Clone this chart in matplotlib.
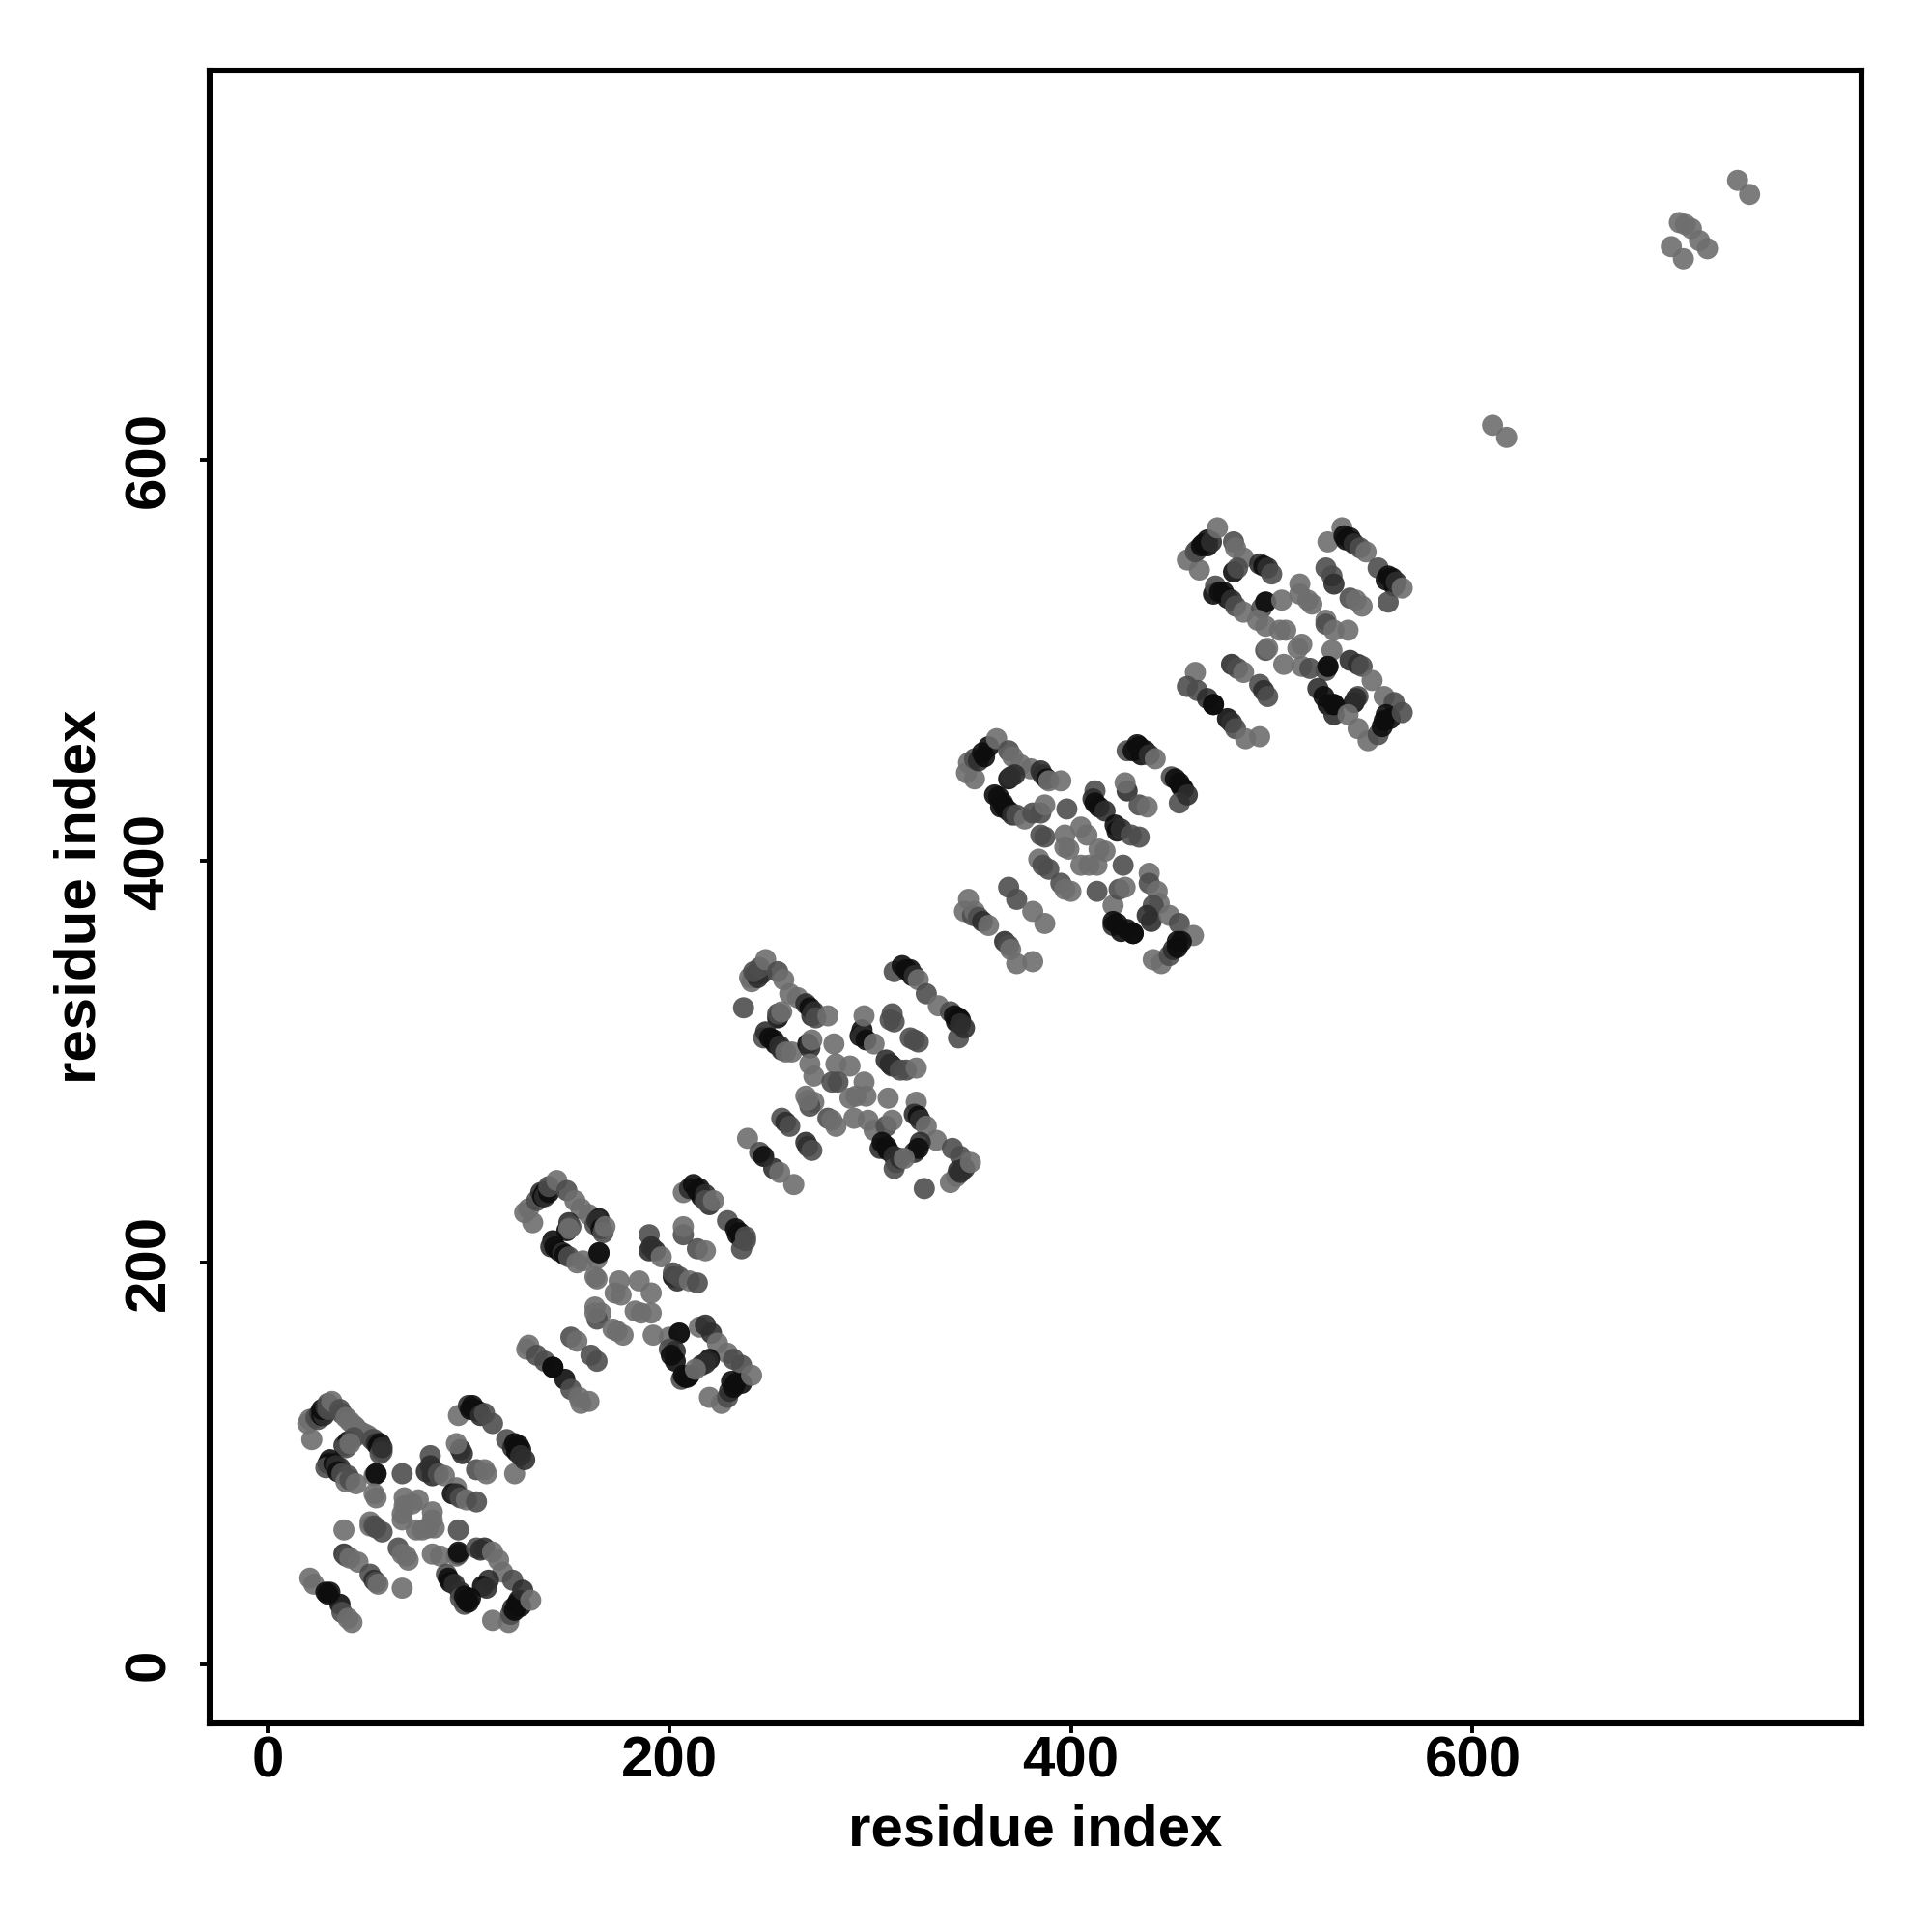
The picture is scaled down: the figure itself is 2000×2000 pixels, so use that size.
import numpy as np
import matplotlib
matplotlib.use("Agg")
import matplotlib.pyplot as plt

# contacts, one list per repeat (residue i, residue j, strength 0-3)
repeat1 = [
    (22, 112, 0), (20, 120, 0), (21, 122, 0), (24, 123, 1), (25, 122, 1), (26, 125, 2), (27, 124, 3), (28, 126, 3),
    (28, 124, 2), (27, 127, 3), (29, 128, 2), (30, 127, 1), (30, 130, 1), (32, 131, 0), (36, 127, 1), (37, 125, 1),
    (39, 123, 0), (41, 121, 0), (43, 119, 0), (44, 118, 0), (46, 116, 0), (48, 115, 0), (50, 114, 0), (52, 112, 1),
    (53, 112, 1), (54, 110, 2), (55, 109, 3), (56, 110, 3), (57, 106, 1), (56, 105, 1), (57, 108, 2), (38, 109, 2),
    (40, 111, 3), (39, 108, 1), (43, 113, 1), (41, 110, 0), (30, 100, 3), (31, 102, 3), (29, 98, 1), (33, 100, 3),
    (34, 99, 2), (36, 98, 2), (35, 96, 3), (37, 95, 1), (40, 94, 1), (39, 91, 0), (41, 92, 1), (44, 90, 0),
    (53, 94, 0), (54, 95, 1), (54, 95, 3), (53, 85, 0), (54, 83, 0), (67, 95, 1), (68, 83, 0), (68, 79, 0), (75, 82, 0),
    (72, 80, 0), (82, 76, 0), (82, 72, 0), (83, 68, 0), (80, 68, 0), (77, 67, 0), (74, 67, 0), (67, 75, 0), (67, 72, 0),
    (95, 67, 1), (38, 67, 0), (51, 71, 0), (51, 69, 0), (53, 69, 1), (54, 68, 1), (57, 66, 1), (65, 58, 1), (69, 54, 0),
    (67, 55, 0), (70, 52, 0), (82, 55, 0), (86, 54, 0), (94, 54, 0), (95, 55, 1), (95, 56, 3), (81, 104, 1), (81, 99, 2),
    (79, 96, 2), (82, 97, 2), (82, 94, 2), (85, 95, 1), (88, 94, 0), (94, 88, 0), (92, 85, 3), (94, 85, 2), (95, 84, 2),
    (96, 83, 1), (99, 82, 0), (104, 81, 1), (96, 107, 2), (97, 105, 2), (94, 110, 0), (104, 97, 1), (108, 97, 0),
    (109, 95, 0), (95, 124, 0), (100, 129, 2), (101, 127, 3), (102, 129, 3), (103, 127, 3), (105, 126, 3), (106, 124, 2),
    (108, 125, 1), (112, 120, 1), (119, 112, 1), (123, 95, 0), (122, 108, 2), (123, 110, 3), (124, 106, 3), (125, 109, 3),
    (126, 107, 3), (126, 104, 2), (128, 102, 2), (104, 58, 1), (106, 57, 2), (108, 58, 2), (112, 56, 0), (115, 52, 0),
    (117, 46, 0), (110, 42, 2), (107, 39, 3), (109, 38, 2), (112, 22, 0), (120, 21, 0), (121, 25, 1), (122, 28, 2),
    (123, 27, 3), (124, 30, 3), (125, 32, 3), (126, 29, 3), (122, 42, 1), (127, 37, 2), (131, 32, 0), (89, 45, 1),
    (90, 43, 3), (91, 41, 3), (93, 40, 2), (96, 36, 2), (96, 33, 1), (98, 30, 1), (98, 34, 3), (99, 32, 3), (100, 31, 3),
    (101, 33, 3), (21, 43, 0), (23, 40, 0), (29, 36, 3), (30, 35, 3), (31, 36, 3), (36, 30, 3), (37, 26, 1), (40, 23, 0),
    (42, 21, 0), (38, 55, 2), (39, 54, 1), (41, 53, 0), (45, 51, 0), (51, 45, 1), (53, 42, 2), (54, 41, 1), (55, 40, 0),
    (67, 38, 0),
]

repeat2 = [
    (132, 220, 0), (128, 225, 0), (130, 227, 0), (134, 231, 1), (136, 235, 2), (137, 233, 3), (138, 235, 3), (139, 236, 3),
    (138, 233, 2), (140, 235, 3), (140, 238, 1), (144, 241, 0), (149, 236, 1), (153, 231, 0), (156, 227, 0), (160, 224, 0),
    (163, 219, 1), (165, 222, 3), (164, 221, 2), (166, 217, 3), (167, 215, 1), (168, 218, 0), (149, 216, 3), (150, 220, 2),
    (151, 218, 1), (150, 217, 0), (142, 211, 3), (141, 208, 2), (143, 208, 3), (145, 206, 3), (147, 205, 2), (148, 204, 3),
    (150, 203, 1), (154, 200, 0), (157, 201, 0), (164, 202, 0), (165, 205, 1), (165, 205, 3), (164, 192, 0), (163, 193, 0),
    (175, 191, 0), (185, 191, 0), (191, 185, 0), (173, 185, 0), (176, 184, 0), (183, 176, 0), (186, 175, 0), (191, 175, 0),
    (163, 178, 0), (166, 175, 0), (164, 172, 1), (163, 175, 0), (172, 167, 0), (174, 166, 0), (177, 164, 0), (192, 164, 0),
    (200, 163, 0), (205, 165, 1), (205, 165, 3), (190, 214, 1), (190, 206, 2), (191, 208, 2), (193, 206, 2), (196, 203, 0),
    (202, 193, 3), (204, 191, 2), (202, 195, 1), (205, 193, 1), (210, 191, 0), (214, 190, 1), (207, 214, 1), (207, 218, 0),
    (214, 207, 1), (218, 206, 0), (207, 235, 0), (210, 237, 2), (212, 239, 3), (214, 236, 3), (215, 237, 3), (216, 233, 3),
    (218, 234, 2), (220, 229, 2), (218, 231, 1), (222, 231, 0), (229, 221, 1), (234, 214, 3), (233, 217, 3), (235, 215, 3),
    (236, 212, 3), (236, 207, 1), (238, 211, 1), (238, 213, 1), (215, 168, 0), (218, 169, 2), (221, 165, 2), (224, 160, 0),
    (229, 155, 0), (232, 152, 1), (220, 152, 3), (216, 149, 2), (218, 150, 2), (236, 149, 1), (220, 133, 0), (226, 130, 0),
    (229, 133, 1), (230, 136, 2), (231, 141, 3), (232, 138, 3), (233, 140, 3), (236, 140, 3), (241, 144, 0), (200, 157, 1),
    (203, 156, 2), (201, 154, 3), (203, 151, 3), (206, 142, 1), (207, 144, 3), (208, 143, 3), (209, 143, 3), (210, 144, 3),
    (213, 147, 0), (129, 157, 0), (130, 159, 0), (134, 154, 1), (138, 151, 1), (142, 148, 3), (142, 148, 3), (148, 142, 3),
    (151, 137, 1), (155, 133, 0), (156, 130, 0), (160, 131, 0), (151, 163, 1), (154, 161, 0), (161, 154, 1), (164, 151, 1),
]

repeat3 = [
    (240, 342, 0), (241, 340, 0), (243, 344, 2), (244, 342, 2), (246, 344, 2), (242, 345, 1), (245, 347, 1), (248, 351, 0),
    (254, 345, 1), (257, 341, 0), (260, 334, 0), (264, 332, 0), (268, 329, 2), (270, 327, 3), (271, 323, 2), (272, 325, 2),
    (273, 322, 1), (279, 323, 0), (237, 327, 1), (254, 322, 3), (255, 324, 2), (254, 324, 1), (256, 325, 0), (247, 312, 1),
    (248, 315, 2), (250, 312, 3), (252, 311, 3), (253, 309, 3), (255, 308, 2), (256, 306, 2), (258, 305, 0), (261, 305, 0),
    (269, 309, 3), (270, 307, 2), (271, 311, 0), (282, 309, 0), (270, 299, 0), (272, 293, 0), (283, 299, 0), (290, 298, 0),
    (281, 290, 1), (284, 290, 1), (297, 290, 0), (290, 282, 0), (293, 283, 0), (298, 283, 0), (309, 282, 0), (268, 283, 0),
    (272, 280, 0), (270, 278, 1), (269, 281, 0), (279, 272, 1), (281, 271, 0), (283, 268, 0), (292, 272, 0), (299, 271, 0),
    (302, 266, 0), (308, 268, 1), (311, 271, 0), (296, 316, 3), (295, 313, 3), (296, 313, 2), (298, 311, 3), (302, 309, 0),
    (297, 323, 0), (310, 299, 3), (308, 301, 2), (311, 298, 2), (315, 296, 1), (318, 296, 1), (323, 297, 0), (310, 321, 1),
    (312, 320, 1), (311, 324, 1), (320, 312, 1), (322, 311, 1), (324, 310, 1), (312, 345, 1), (316, 348, 3), (318, 346, 3),
    (320, 346, 3), (321, 343, 3), (322, 343, 2), (324, 341, 0), (328, 334, 1), (334, 328, 0), (340, 325, 1), (342, 323, 3),
    (343, 320, 3), (344, 322, 3), (345, 321, 3), (344, 312, 1), (345, 319, 2), (347, 317, 2), (323, 280, 0), (322, 274, 2),
    (324, 273, 3), (325, 271, 2), (328, 268, 0), (333, 261, 0), (325, 260, 2), (322, 255, 2), (324, 257, 3), (341, 257, 1),
    (345, 253, 1), (340, 240, 0), (343, 243, 0), (344, 246, 2), (345, 245, 2), (347, 247, 2), (350, 250, 0), (305, 257, 2),
    (306, 260, 3), (308, 258, 3), (309, 256, 3), (312, 253, 2), (313, 250, 2), (312, 247, 1), (315, 252, 2), (317, 252, 0),
    (327, 237, 1), (239, 262, 0), (245, 255, 1), (247, 253, 3), (252, 247, 2), (255, 245, 0), (262, 239, 0), (256, 272, 1),
    (258, 270, 2), (260, 268, 1), (268, 260, 2), (269, 258, 2), (271, 256, 1),
]

repeat4 = [
    (348, 444, 0), (352, 441, 0), (349, 449, 0), (352, 451, 1), (354, 450, 2), (356, 454, 3), (357, 452, 3), (359, 457, 3),
    (363, 461, 0), (369, 455, 1), (371, 452, 0), (375, 448, 0), (380, 446, 0), (385, 445, 2), (386, 443, 2), (388, 441, 3),
    (389, 440, 0), (395, 440, 0), (369, 441, 3), (370, 442, 2), (372, 443, 2), (362, 433, 3), (364, 432, 3), (365, 427, 3),
    (366, 429, 3), (367, 427, 3), (369, 425, 3), (371, 423, 2), (373, 423, 1), (377, 421, 0), (381, 424, 1), (385, 424, 1),
    (387, 428, 0), (385, 413, 1), (387, 412, 1), (398, 426, 1), (397, 413, 0), (397, 407, 0), (399, 406, 0), (405, 417, 0),
    (408, 413, 0), (414, 406, 0), (417, 405, 0), (413, 398, 0), (405, 398, 0), (409, 398, 0), (426, 398, 1), (384, 401, 0),
    (386, 398, 1), (389, 396, 1), (395, 389, 1), (397, 386, 0), (400, 385, 0), (413, 385, 1), (421, 378, 0), (424, 386, 1),
    (427, 387, 0), (412, 435, 1), (411, 431, 2), (412, 429, 3), (414, 427, 3), (417, 425, 2), (423, 415, 3), (422, 418, 3),
    (425, 416, 2), (430, 413, 1), (434, 412, 1), (428, 435, 2), (427, 439, 0), (434, 428, 1), (438, 427, 0), (428, 455, 1),
    (431, 455, 3), (433, 458, 3), (434, 457, 3), (435, 453, 3), (437, 455, 3), (439, 453, 2), (442, 451, 0), (450, 442, 1),
    (452, 441, 3), (454, 439, 3), (455, 437, 3), (456, 436, 3), (454, 429, 1), (458, 433, 2), (439, 394, 0), (439, 389, 1),
    (443, 385, 0), (444, 379, 0), (441, 378, 1), (438, 373, 2), (440, 370, 2), (449, 373, 0), (454, 369, 1), (461, 363, 0),
    (441, 351, 0), (445, 349, 0), (449, 353, 1), (451, 356, 2), (453, 357, 3), (453, 360, 3), (455, 360, 3), (421, 368, 2),
    (421, 370, 3), (423, 369, 3), (425, 365, 3), (428, 366, 3), (431, 364, 3), (431, 364, 3), (347, 375, 0), (349, 381, 0),
    (351, 373, 1), (352, 375, 0), (354, 372, 1), (356, 370, 2), (359, 368, 0), (367, 360, 2), (369, 358, 1), (370, 356, 0),
    (373, 349, 0), (381, 350, 0), (369, 387, 1), (373, 381, 1), (381, 375, 0), (387, 369, 0),
]

repeat5 = [
    (458, 550, 0), (464, 545, 0), (462, 554, 1), (463, 555, 1), (465, 557, 3), (466, 558, 3), (468, 557, 3), (468, 560, 3),
    (470, 559, 2), (473, 566, 0), (481, 559, 1), (482, 556, 0), (486, 551, 0), (494, 548, 2), (496, 547, 3), (498, 546, 2),
    (500, 543, 1), (481, 544, 3), (483, 546, 1), (471, 533, 3), (472, 537, 1), (474, 534, 3), (476, 534, 3), (478, 531, 3),
    (480, 530, 2), (482, 527, 1), (486, 524, 0), (495, 526, 1), (497, 529, 1), (497, 529, 3), (505, 530, 0), (514, 538, 0),
    (514, 533, 0), (518, 530, 0), (520, 528, 0), (527, 520, 0), (527, 518, 1), (531, 515, 0), (538, 515, 0), (493, 520, 0),
    (497, 517, 0), (504, 515, 0), (507, 515, 0), (497, 505, 1), (498, 506, 0), (513, 506, 0), (515, 508, 0), (506, 498, 0),
    (515, 497, 0), (519, 496, 1), (530, 505, 0), (527, 495, 1), (528, 497, 2), (528, 497, 3), (527, 546, 1), (530, 542, 1),
    (531, 538, 2), (539, 531, 1), (542, 530, 0), (545, 527, 0), (528, 559, 0), (535, 566, 0), (536, 562, 3), (537, 560, 3),
    (539, 561, 3), (540, 559, 3), (541, 558, 2), (544, 556, 1), (547, 554, 0), (553, 546, 1), (557, 540, 3), (558, 542, 3),
    (560, 541, 3), (561, 537, 3), (558, 529, 1), (562, 539, 2), (565, 536, 0), (539, 500, 2), (543, 498, 2), (545, 497, 1),
    (550, 490, 0), (556, 482, 0), (561, 479, 1), (543, 482, 1), (541, 479, 3), (542, 481, 2), (548, 460, 0), (543, 466, 0),
    (553, 463, 1), (555, 467, 3), (556, 470, 3), (557, 473, 3), (559, 471, 3), (565, 474, 1), (523, 486, 2), (526, 482, 3),
    (528, 478, 3), (531, 473, 2), (531, 478, 3), (531, 478, 3), (538, 473, 0), (462, 494, 0), (458, 487, 1), (463, 485, 1),
    (468, 481, 2), (471, 478, 3), (471, 478, 3), (478, 471, 3), (480, 469, 2), (482, 466, 1), (487, 461, 0), (494, 462, 0),
    (480, 498, 2), (483, 496, 1), (486, 494, 0), (494, 488, 1), (496, 485, 2), (498, 482, 1),
]

tail = [
    (610, 617, 0), (617, 611, 0), (699, 706, 0), (705, 700, 0), (703, 718, 0), (706, 717, 0), (709, 715, 0),
    (713, 709, 0), (717, 705, 0), (732, 739, 0), (738, 732, 0),
]

ticks = [0, 200, 400, 600]
shades = [0.43, 0.30, 0.18, 0.05]

contacts = np.array(repeat1 + repeat2 + repeat3 + repeat4 + repeat5 + tail)
colors = [str(shades[s]) for s in contacts[:, 2]]

plt.rcParams['font.family'] = ['Liberation Sans', 'DejaVu Sans']
plt.rcParams['font.weight'] = 'bold'

fig = plt.figure(figsize=(10, 10), dpi=200)
ax = fig.add_axes([0.1085, 0.108, 0.855, 0.8555])

ax.scatter(contacts[:, 0], contacts[:, 1], s=62, c=colors, alpha=0.9, linewidths=0)

ax.set_xlim(-28.9, 793.7)
ax.set_ylim(-29.3, 793.7)
ax.set_xticks(ticks)
ax.set_yticks(ticks)
ax.tick_params(axis='both', length=3.6, width=1.4, labelsize=21.6)
ax.tick_params(axis='x', pad=1)
ax.tick_params(axis='y', pad=9)
plt.setp(ax.get_yticklabels(), rotation=90, va='center')
ax.set_xlabel('residue index', fontsize=21.6, fontweight='bold', labelpad=5.6)
ax.set_ylabel('residue index', fontsize=21.6, fontweight='bold', labelpad=5.9)

for spine in ax.spines.values():
    spine.set_linewidth(2.2)

fig.savefig('out.png', dpi=200)
